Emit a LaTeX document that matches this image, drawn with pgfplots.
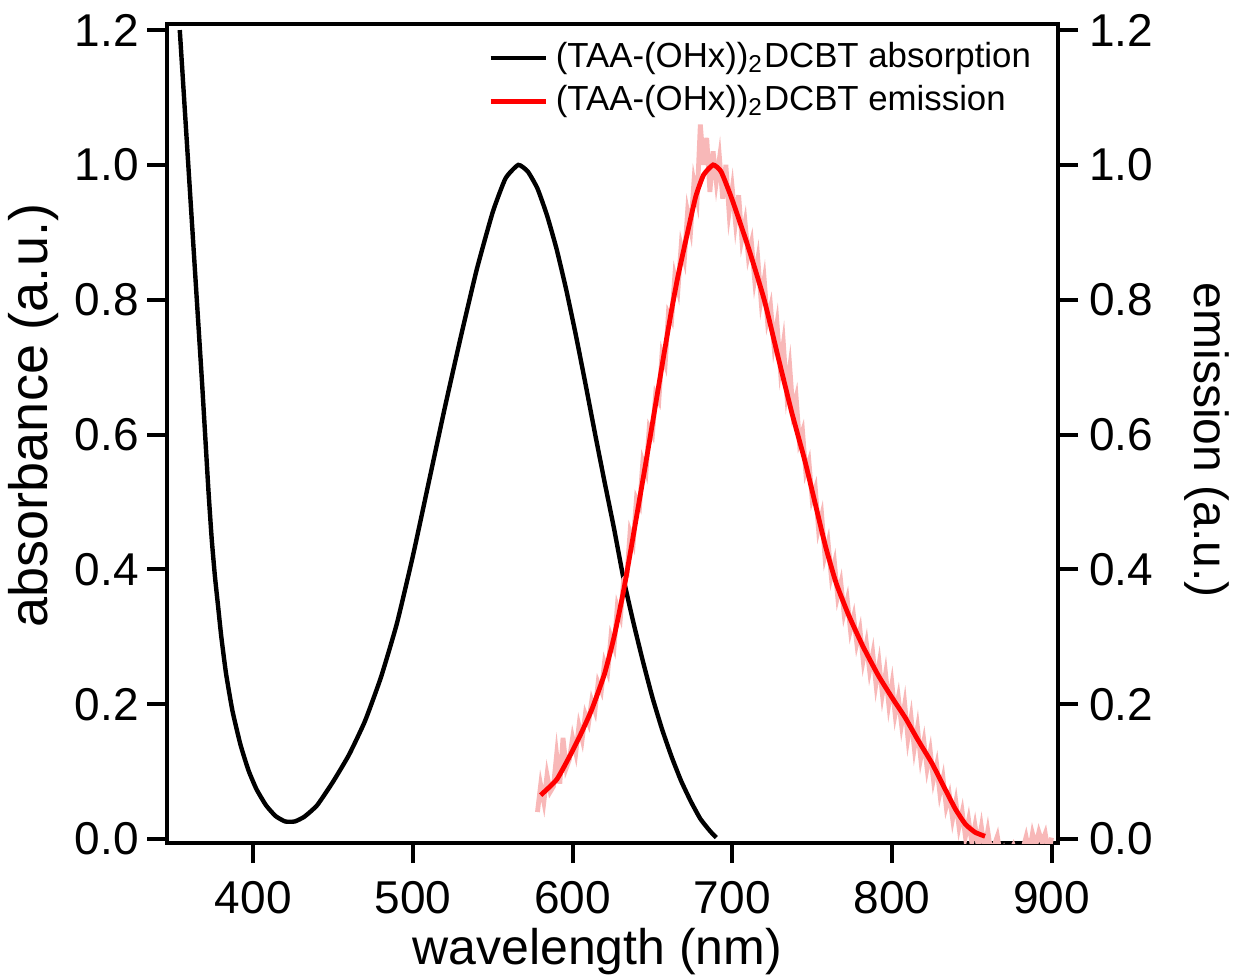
\documentclass[border=0pt]{standalone}
\usepackage{fontspec}
\setmainfont{Liberation Sans}
\usepackage{pgfplots}
\pgfplotsset{compat=1.18}

\definecolor{rawpink}{RGB}{248,184,184}

\pgfplotsset{
  specaxis/.style={
    scale only axis,
    width=222.75pt, height=204.75pt,
    xmin=346, xmax=904, ymin=-0.006, ymax=1.209,
    axis line style={line width=1pt},
    tick style={line width=1pt, black},
    major tick length=5pt,
    tick align=outside,
    ytick={0,0.2,...,1.2},
    xtick={400,500,...,900},
    /pgf/number format/assume math mode=true,
    ticklabel style={font=\fontsize{11.5}{13}\selectfont},
    yticklabel style={/pgf/number format/fixed, /pgf/number format/fixed zerofill, /pgf/number format/precision=1},
    xticklabel style={yshift=-1pt, /pgf/number format/fixed, /pgf/number format/precision=0, /pgf/number format/1000 sep={}},
  }
}

\begin{document}
\begin{tikzpicture}
\begin{axis}[
  specaxis, name=ax,
  axis lines=box,
  xtick pos=bottom, ytick pos=left,
  yticklabel style={xshift=1.5pt},
  xlabel={wavelength (nm)},
  ylabel={absorbance (a.u.)},
  xlabel style={font=\fontsize{12.5}{15}\selectfont, at={(axis description cs:0.483,-0.1625)}, anchor=south, inner sep=0pt},
  ylabel style={font=\fontsize{13.5}{15}\selectfont, at={(axis description cs:-0.150,0.522)}, anchor=center, inner sep=0pt},
  clip=true,
  legend style={at={(axis description cs:0.984,0.993)}, anchor=north east,
    draw=none, fill=none, font=\fontsize{8.7}{10}\selectfont,
    row sep=-1pt, inner sep=1pt},
  legend cell align=left,
  legend image code/.code={\draw[#1, line width=1.1pt] (0pt,0pt) -- (13.75pt,0pt);},
]
% absorption
\addplot[black, line width=1.1pt, smooth, tension=0.3] coordinates {
(354,1.200) (358,1.050) (362,0.900) (366,0.750) (368,0.675) (370,0.595)
(372,0.515) (374,0.445) (376,0.390) (378,0.345) (380,0.300) (383,0.245)
(387,0.190) (392,0.140) (397,0.102) (402,0.074) (408,0.050) (414,0.034)
(420,0.026) (426,0.026) (432,0.033) (440,0.050) (450,0.085) (460,0.125)
(470,0.175) (480,0.240) (490,0.320) (500,0.420) (510,0.530) (520,0.640)
(530,0.745) (540,0.845) (550,0.930) (558,0.980) (566,1.000) (572,0.990)
(578,0.965) (584,0.925) (590,0.875) (596,0.815) (602,0.748) (608,0.676)
(614,0.602) (620,0.530) (626,0.460) (632,0.385) (638,0.322) (644,0.264)
(650,0.210) (656,0.163) (662,0.122) (668,0.086) (674,0.056) (680,0.030)
(686,0.012) (690,0.002)
};
\addlegendentry{(TAA-(OHx))\textsubscript{2}DCBT absorption}
% raw emission
\addplot[rawpink, line width=1.2pt, forget plot] coordinates {
(578,0.040) (580,0.080) (582,0.055) (584,0.095) (586,0.070) (588,0.078)
(590,0.125) (592,0.082) (594,0.150) (596,0.105) (598,0.118) (600,0.150)
(602,0.128) (604,0.168) (606,0.148) (608,0.185) (610,0.172) (612,0.205)
(614,0.190) (616,0.232) (618,0.220) (620,0.262) (622,0.248) (624,0.300)
(626,0.285) (628,0.345) (630,0.330) (632,0.385) (634,0.390) (636,0.455)
(638,0.440) (640,0.505) (642,0.495) (644,0.560) (646,0.545) (648,0.610)
(650,0.600) (652,0.660) (654,0.650) (656,0.720) (658,0.705) (660,0.780)
(662,0.770) (664,0.835) (666,0.815) (668,0.880) (670,0.860) (672,0.930)
(674,0.905) (676,0.975) (678,0.950) (680,1.060) (682,1.000) (684,1.040)
(686,0.960) (688,1.020) (690,0.975) (692,1.010) (694,0.950) (696,1.000)
(698,0.930) (700,0.965) (702,0.915) (704,0.955) (706,0.890) (708,0.915)
(710,0.865) (712,0.885) (714,0.830) (716,0.860) (718,0.800) (720,0.830)
(722,0.770) (724,0.790) (726,0.735) (728,0.765) (730,0.700) (732,0.735)
(734,0.665) (736,0.700) (738,0.635) (740,0.655) (742,0.590) (744,0.605)
(746,0.545) (748,0.560) (750,0.505) (752,0.520) (754,0.460) (756,0.480)
(758,0.420) (760,0.440) (762,0.390) (764,0.410) (766,0.360) (768,0.380)
(770,0.335) (772,0.355) (774,0.310) (776,0.330) (778,0.290) (780,0.310)
(782,0.265) (784,0.290) (786,0.250) (788,0.275) (790,0.230) (792,0.260)
(794,0.215) (796,0.245) (798,0.200) (800,0.230) (802,0.185) (804,0.210)
(806,0.170) (808,0.200) (810,0.150) (812,0.180) (814,0.135) (816,0.165)
(818,0.120) (820,0.145) (822,0.105) (824,0.130) (826,0.088) (828,0.110)
(830,0.068) (832,0.090) (834,0.048) (836,0.065) (838,0.030) (840,0.055)
(842,0.018) (844,0.040) (846,0.004) (848,0.028) (850,-0.005) (852,0.020)
(854,-0.010) (856,0.018) (858,-0.015) (860,0.012) (862,-0.020) (864,-0.010)
(866,0.004) (868,-0.025) (870,-0.015) (872,-0.030) (874,-0.020) (876,-0.010)
(878,-0.025) (880,-0.030) (882,-0.015) (884,0.003) (886,-0.020) (888,0.008)
(890,-0.010) (892,0.010) (894,-0.005) (896,0.008) (898,-0.020) (900,0.002)
};
% smoothed emission
\addplot[red, line width=1.2pt, smooth, tension=0.3] coordinates {
(580,0.065) (590,0.088) (598,0.122) (605,0.155) (612,0.192) (620,0.245)
(626,0.300) (632,0.369) (638,0.450) (646,0.560) (652,0.645) (658,0.730)
(662,0.785) (666,0.835) (671,0.889) (677,0.952) (682,0.985) (688,1.000)
(693,0.990) (700,0.948) (710,0.878) (720,0.800) (729,0.712) (737,0.635)
(741,0.600) (745.8,0.558) (752,0.497) (758.3,0.435) (765,0.380) (772.9,0.332)
(782,0.285) (791.6,0.242) (800,0.210) (808.3,0.180) (816,0.148) (824.9,0.113)
(832,0.080) (839.6,0.045) (846,0.022) (852,0.010) (858.3,0.004)
};
\addlegendentry{(TAA-(OHx))\textsubscript{2}DCBT emission}
\end{axis}
\begin{axis}[
  specaxis,
  axis x line=none,
  axis y line*=right,
  yticklabel style={xshift=-0.75pt},
  ylabel={emission (a.u.)},
  ylabel style={font=\fontsize{12}{15}\selectfont, at={(axis description cs:1.167,0.492)}, anchor=center, rotate=180, inner sep=0pt},
]
\addplot[draw=none] coordinates {(400,0.5)};
\end{axis}
\path ([xshift=-41.75pt,yshift=-33.75pt]ax.south west) rectangle ([xshift=44pt,yshift=6pt]ax.north east);
\end{tikzpicture}
\end{document}
